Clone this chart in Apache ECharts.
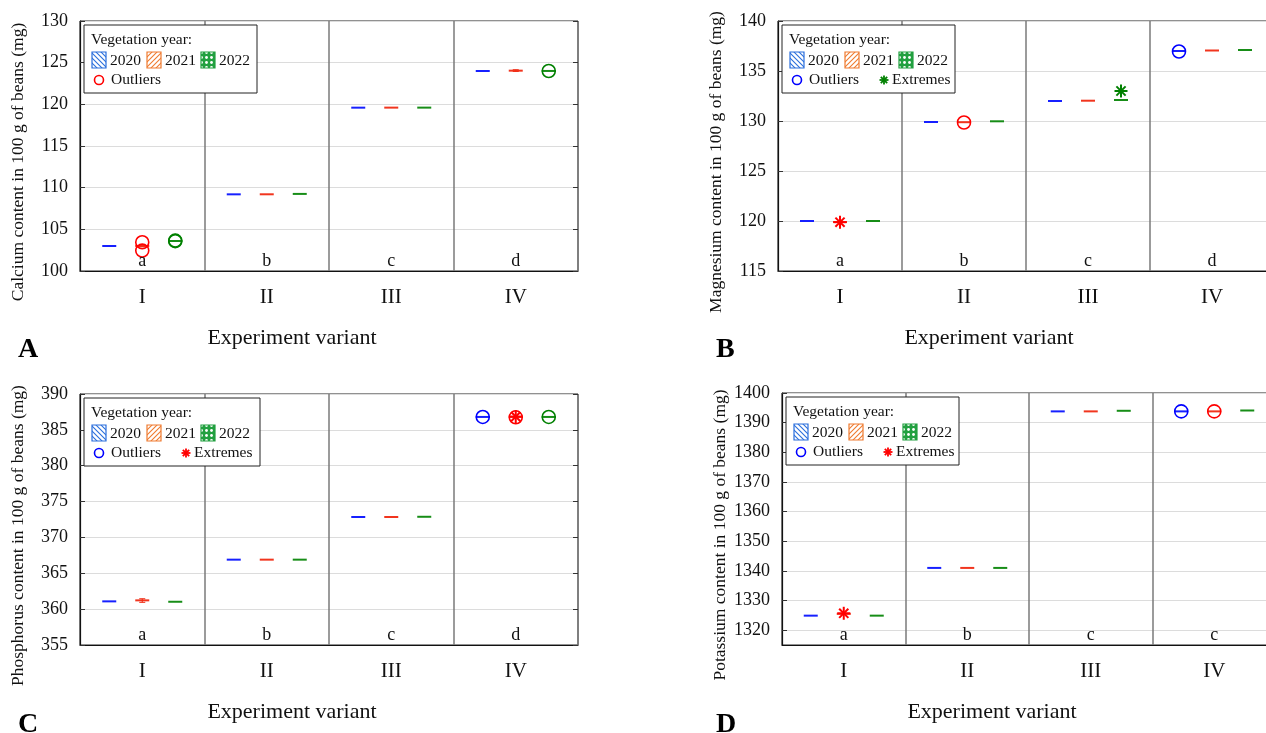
<!DOCTYPE html>
<html><head><meta charset="utf-8">
<script src="https://cdn.jsdelivr.net/npm/echarts@6/dist/echarts.min.js"></script>
<style>html,body{margin:0;padding:0;background:#fff}#c{width:1266px;height:733px}</style>
</head><body><div id="c"></div><script>
// ---------- data ----------
const categories = ['I', 'II', 'III', 'IV'];
const years = ['2020', '2021', '2022'];
const panelLetters = ['A', 'B', 'C', 'D'];
const xTitle = 'Experiment variant';
const yTitles = [
  'Calcium content in 100 g of beans (mg)',
  'Magnesium content in 100 g of beans (mg)',
  'Phosphorus content in 100 g of beans (mg)',
  'Potassium content in 100 g of beans (mg)'
];
const groupLetters = [
  ['a', 'b', 'c', 'd'],
  ['a', 'b', 'c', 'd'],
  ['a', 'b', 'c', 'd'],
  ['a', 'b', 'c', 'c']
];
const yMins = [100, 115, 355, 1315];
const yMaxs = [130, 140, 390, 1400];
const ySteps = [5, 5, 5, 10];

// box values per category: [min, Q1, median, Q3, max]
// A - Calcium
const caBox2020 = [[102.95, 102.97, 103.0, 103.03, 103.05], [109.18, 109.19, 109.2, 109.21, 109.22], [119.58, 119.59, 119.6, 119.61, 119.62], [123.98, 123.99, 124.0, 124.01, 124.02]];
const caBox2021 = [[102.9, 102.95, 103.0, 103.05, 103.1], [109.2, 109.2, 109.2, 109.21, 109.22], [119.59, 119.6, 119.6, 119.61, 119.62], [123.95, 124.0, 124.05, 124.08, 124.15]];
const caBox2022 = [[103.55, 103.58, 103.6, 103.62, 103.65], [109.23, 109.24, 109.25, 109.26, 109.27], [119.59, 119.6, 119.6, 119.61, 119.62], [123.99, 124.0, 124.0, 124.01, 124.02]];
const caOut2020 = [];
const caOut2021 = [[0, 103.45], [0, 102.45]];
const caOut2022 = [[0, 103.65], [0, 103.58], [3, 124.0]];
const caExt2020 = [], caExt2021 = [], caExt2022 = [];

// B - Magnesium
const mgBox2020 = [[119.98, 119.99, 120.0, 120.01, 120.02], [129.88, 129.89, 129.9, 129.91, 129.92], [131.98, 131.99, 132.0, 132.01, 132.02], [136.98, 136.99, 137.0, 137.01, 137.02]];
const mgBox2021 = [[119.88, 119.89, 119.9, 119.91, 119.92], [129.86, 129.87, 129.88, 129.89, 129.9], [132.01, 132.02, 132.03, 132.04, 132.05], [136.98, 137.02, 137.05, 137.08, 137.1]];
const mgBox2022 = [[119.98, 119.99, 120.0, 120.01, 120.02], [129.95, 129.96, 129.97, 129.98, 129.99], [132.07, 132.08, 132.1, 132.12, 132.13], [137.08, 137.09, 137.1, 137.11, 137.12]];
const mgOut2020 = [[3, 136.95]];
const mgOut2021 = [[1, 129.85]];
const mgOut2022 = [];
const mgExt2020 = [];
const mgExt2021 = [[0, 119.88]];
const mgExt2022 = [[2, 133.0]];

// C - Phosphorus
const pBox2020 = [[361.02, 361.05, 361.08, 361.12, 361.15], [366.88, 366.89, 366.9, 366.91, 366.92], [372.83, 372.84, 372.85, 372.86, 372.87], [386.78, 386.79, 386.8, 386.81, 386.82]];
const pBox2021 = [[360.95, 361.15, 361.22, 361.3, 361.45], [366.88, 366.89, 366.9, 366.91, 366.92], [372.83, 372.84, 372.85, 372.86, 372.87], [386.78, 386.79, 386.8, 386.81, 386.82]];
const pBox2022 = [[360.98, 361.0, 361.03, 361.06, 361.08], [366.88, 366.89, 366.9, 366.91, 366.92], [372.86, 372.87, 372.88, 372.89, 372.9], [386.78, 386.79, 386.8, 386.81, 386.82]];
const pOut2020 = [[3, 386.8]];
const pOut2021 = [[3, 386.75]];
const pOut2022 = [[3, 386.8]];
const pExt2020 = [];
const pExt2021 = [[3, 386.85]];
const pExt2022 = [];

// D - Potassium
const kBox2020 = [[1324.8, 1324.85, 1324.9, 1324.95, 1325.0], [1340.9, 1340.95, 1341.0, 1341.05, 1341.1], [1393.7, 1393.75, 1393.8, 1393.85, 1393.9], [1393.7, 1393.75, 1393.8, 1393.85, 1393.9]];
const kBox2021 = [[1325.4, 1325.45, 1325.5, 1325.55, 1325.6], [1340.9, 1340.95, 1341.0, 1341.05, 1341.1], [1393.7, 1393.75, 1393.8, 1393.85, 1393.9], [1393.7, 1393.75, 1393.8, 1393.85, 1393.9]];
const kBox2022 = [[1324.8, 1324.85, 1324.9, 1324.95, 1325.0], [1340.9, 1340.95, 1341.0, 1341.05, 1341.1], [1393.9, 1393.95, 1394.0, 1394.05, 1394.1], [1394.0, 1394.05, 1394.1, 1394.15, 1394.2]];
const kOut2020 = [[3, 1393.8]];
const kOut2021 = [[3, 1393.8]];
const kOut2022 = [];
const kExt2020 = [];
const kExt2021 = [[0, 1325.7]];
const kExt2022 = [];

const boxes = [[caBox2020, caBox2021, caBox2022], [mgBox2020, mgBox2021, mgBox2022], [pBox2020, pBox2021, pBox2022], [kBox2020, kBox2021, kBox2022]];
const outliers = [[caOut2020, caOut2021, caOut2022], [mgOut2020, mgOut2021, mgOut2022], [pOut2020, pOut2021, pOut2022], [kOut2020, kOut2021, kOut2022]];
const extremes = [[caExt2020, caExt2021, caExt2022], [mgExt2020, mgExt2021, mgExt2022], [pExt2020, pExt2021, pExt2022], [kExt2020, kExt2021, kExt2022]];
// legend: which outlier / extreme sample colours are shown
const legendOutlierYear = [1, 0, 0, 0];
const legendExtremeYear = [null, 2, 1, 1];

// ---------- styles ----------
const FONT = 'Liberation Serif';
const yearColors = ['#0a14ff', '#f02a12', '#0b870b'];
const markColors = ['#0000ff', '#ff0000', '#008000'];
const patColors = ['#2b6fdc', '#ef7b30', '#22a040'];
const yearOffsets = [-33, 0, 33];
const grids = [
  { left: 80, top: 21, width: 498, height: 250 },
  { left: 778, top: 21, width: 496, height: 250 },
  { left: 80, top: 394, width: 498, height: 251 },
  { left: 782, top: 393, width: 494, height: 252 }
];
const ZL = 100;

function boxRender(yi) {
  return function (params, api) {
    const c = api.value(0);
    const v = [1, 2, 3, 4, 5].map(i => api.value(i));
    const p = v.map(val => api.coord([c, val]));
    const x = p[2][0] + yearOffsets[yi];
    const col = yearColors[yi];
    const ch = [];
    if (Math.abs(p[0][1] - p[4][1]) > 1.5) {
      ch.push({ type: 'line', shape: { x1: x, y1: p[0][1], x2: x, y2: p[4][1] }, style: { stroke: col, lineWidth: 1 } });
      ch.push({ type: 'line', shape: { x1: x - 3, y1: p[0][1], x2: x + 3, y2: p[0][1] }, style: { stroke: col, lineWidth: 1 } });
      ch.push({ type: 'line', shape: { x1: x - 3, y1: p[4][1], x2: x + 3, y2: p[4][1] }, style: { stroke: col, lineWidth: 1 } });
    }
    const top = Math.min(p[1][1], p[3][1]);
    const h = Math.abs(p[1][1] - p[3][1]);
    const hh = Math.max(h, 2);
    const cy = top + h / 2;
    ch.push({ type: 'rect', shape: { x: x - 7, y: cy - hh / 2, width: 14, height: hh }, style: { fill: col, opacity: 0.95 } });
    return { type: 'group', children: ch };
  };
}
function outRender(yi) {
  return function (params, api) {
    const p = api.coord([api.value(0), api.value(1)]);
    return { type: 'circle', shape: { cx: p[0] + yearOffsets[yi], cy: p[1], r: 6.5 }, style: { fill: 'none', stroke: markColors[yi], lineWidth: 1.6 } };
  };
}
function asterisk(cx, cy, r, col, lw, z) {
  const ch = [];
  for (let k = 0; k < 4; k++) {
    const a = k * Math.PI / 4;
    const dx = Math.cos(a) * r, dy = Math.sin(a) * r;
    const el = { type: 'line', shape: { x1: cx - dx, y1: cy - dy, x2: cx + dx, y2: cy + dy }, style: { stroke: col, lineWidth: lw } };
    if (z != null) el.z = z;
    ch.push(el);
  }
  return ch;
}
function extRender(yi) {
  return function (params, api) {
    const p = api.coord([api.value(0), api.value(1)]);
    return { type: 'group', children: asterisk(p[0] + yearOffsets[yi], p[1], 6.5, markColors[yi], 2) };
  };
}
function letterRender(pi) {
  return function (params, api) {
    const p = api.coord([api.value(0), yMins[pi]]);
    return { type: 'text', x: p[0], y: p[1] - 10, style: { text: groupLetters[pi][params.dataIndex], font: '18px "' + FONT + '"', fill: '#111', align: 'center', verticalAlign: 'middle' } };
  };
}

function makePattern(kind, color) {
  const cv = document.createElement('canvas');
  const s = 5;
  cv.width = s; cv.height = s;
  const g = cv.getContext('2d');
  if (kind === 'check') {
    g.fillStyle = color; g.fillRect(0, 0, s, s);
    g.fillStyle = '#fff';
    g.beginPath(); g.arc(2.5, 2.5, 1.4, 0, Math.PI * 2); g.fill();
  } else {
    g.fillStyle = '#fff'; g.fillRect(0, 0, s, s);
    g.strokeStyle = color; g.lineWidth = 1.1;
    g.beginPath();
    if (kind === 'back') {
      g.moveTo(-1, -1); g.lineTo(s + 1, s + 1);
      g.moveTo(-1, s - 1); g.lineTo(1, s + 1);
      g.moveTo(s - 1, -1); g.lineTo(s + 1, 1);
    } else {
      g.moveTo(-1, s + 1); g.lineTo(s + 1, -1);
      g.moveTo(-1, 1); g.lineTo(1, -1);
      g.moveTo(s - 1, s + 1); g.lineTo(s + 1, s - 1);
    }
    g.stroke();
  }
  return { type: 'pattern', image: cv, repeat: 'repeat' };
}
const patKinds = ['back', 'fwd', 'check'];

function legendGraphic(pi) {
  const gr = grids[pi];
  const lf = '15.5px "' + FONT + '"';
  const w = pi === 2 ? 176 : 173;
  const ch = [
    { type: 'rect', z: ZL, shape: { x: 0, y: 0, width: w, height: 68 }, style: { fill: '#fff', stroke: '#222', lineWidth: 1 } },
    { type: 'text', z: ZL + 1, x: 7, y: 15, style: { text: 'Vegetation year:', font: lf, fill: '#111', verticalAlign: 'middle' } }
  ];
  const sqX = [8, 63, 117], txX = [26, 81, 135];
  for (let i = 0; i < 3; i++) {
    ch.push({ type: 'rect', z: ZL + 1, shape: { x: sqX[i], y: 27, width: 14, height: 16 }, style: { fill: makePattern(patKinds[i], patColors[i]), stroke: patColors[i], lineWidth: 1.2 } });
    ch.push({ type: 'text', z: ZL + 1, x: txX[i], y: 36, style: { text: years[i], font: lf, fill: '#111', verticalAlign: 'middle' } });
  }
  ch.push({ type: 'circle', z: ZL + 1, shape: { cx: 15, cy: 55, r: 4.5 }, style: { fill: 'none', stroke: markColors[legendOutlierYear[pi]], lineWidth: 1.6 } });
  ch.push({ type: 'text', z: ZL + 1, x: 27, y: 55, style: { text: 'Outliers', font: lf, fill: '#111', verticalAlign: 'middle' } });
  if (legendExtremeYear[pi] != null) {
    asterisk(102, 55, 4.5, markColors[legendExtremeYear[pi]], 1.8, ZL + 1).forEach(e => ch.push(e));
    ch.push({ type: 'text', z: ZL + 1, x: 110, y: 55, style: { text: 'Extremes', font: lf, fill: '#111', verticalAlign: 'middle' } });
  }
  return { type: 'group', x: gr.left + 4, y: gr.top + 4, z: ZL, children: ch };
}

// ---------- option ----------
const option = {
  animation: false,
  backgroundColor: '#fff',
  grid: grids.map(g => Object.assign({ show: true, borderColor: '#222', borderWidth: 1, backgroundColor: 'transparent', containLabel: false, outerBoundsMode: 'none' }, g)),
  xAxis: grids.map((g, i) => ({
    type: 'category', gridIndex: i, data: categories, boundaryGap: true,
    name: xTitle, nameLocation: 'middle', nameGap: 56,
    nameTextStyle: { fontFamily: FONT, fontSize: 22, color: '#111', padding: [0, 74, 0, 0] },
    axisLine: { lineStyle: { color: '#111', width: 1.2 } },
    axisTick: { show: false },
    axisLabel: { fontFamily: FONT, fontSize: 21, color: '#111', margin: 16 },
    splitLine: { show: true, interval: 0, lineStyle: { color: '#7a7a7a', width: 1.5 } }
  })),
  yAxis: [],
  graphic: [],
  series: []
};
function yAxisCfg(i, right) {
  const cfg = {
    type: 'value', gridIndex: i, position: right ? 'right' : 'left',
    min: yMins[i], max: yMaxs[i],
    axisLine: { show: !right, lineStyle: { color: '#111', width: 1.2 } },
    axisTick: { show: true, inside: true, length: 5, lineStyle: { color: '#333' } },
    axisLabel: { show: !right, fontFamily: FONT, fontSize: 18, color: '#111', margin: 12, showMinLabel: yMins[i] % ySteps[i] === 0,
      formatter: v => (v % ySteps[i] === 0 ? String(v) : '') },
    splitLine: { show: !right, lineStyle: { color: '#dcdcdc', width: 1 } }
  };
  if (yMins[i] % ySteps[i] === 0) {
    cfg.interval = ySteps[i];
  } else {
    cfg.minInterval = ySteps[i]; cfg.maxInterval = ySteps[i];
    cfg.splitNumber = Math.round((yMaxs[i] - yMins[i]) / ySteps[i]);
  }
  if (!right) {
    cfg.name = yTitles[i]; cfg.nameLocation = 'middle'; cfg.nameGap = 53;
    cfg.nameTextStyle = { fontFamily: FONT, fontSize: 17.5, color: '#111', padding: [0, 32, 0, 0] };
  }
  return cfg;
}
for (let i = 0; i < 4; i++) option.yAxis.push(yAxisCfg(i, false));
for (let i = 0; i < 4; i++) option.yAxis.push(yAxisCfg(i, true));

for (let pi = 0; pi < 4; pi++) {
  for (let yi = 0; yi < 3; yi++) {
    option.series.push({
      type: 'custom', name: years[yi], xAxisIndex: pi, yAxisIndex: pi, z: 3,
      renderItem: boxRender(yi),
      encode: { x: 0, y: [1, 2, 3, 4, 5] },
      data: boxes[pi][yi].map((b, ci) => [ci].concat(b))
    });
    if (outliers[pi][yi].length) option.series.push({
      type: 'custom', name: years[yi] + ' outliers', xAxisIndex: pi, yAxisIndex: pi, z: 4,
      renderItem: outRender(yi), encode: { x: 0, y: 1 }, data: outliers[pi][yi]
    });
    if (extremes[pi][yi].length) option.series.push({
      type: 'custom', name: years[yi] + ' extremes', xAxisIndex: pi, yAxisIndex: pi, z: 4,
      renderItem: extRender(yi), encode: { x: 0, y: 1 }, data: extremes[pi][yi]
    });
  }
  option.series.push({
    type: 'custom', name: 'letters', xAxisIndex: pi, yAxisIndex: pi, z: 5,
    renderItem: letterRender(pi), encode: { x: 0 },
    data: groupLetters[pi].map((l, ci) => [ci])
  });
  option.graphic.push(legendGraphic(pi));
}
const panelPos = [[18, 350], [716, 350], [18, 725], [716, 725]];
panelLetters.forEach((t, i) => option.graphic.push({
  type: 'text', left: panelPos[i][0], top: panelPos[i][1] - 14, z: ZL,
  style: { text: t, font: 'bold 28px "' + FONT + '"', fill: '#000' }
}));

const chart = echarts.init(document.getElementById('c'), null, { renderer: 'canvas' });
chart.setOption(option);
</script></body></html>
